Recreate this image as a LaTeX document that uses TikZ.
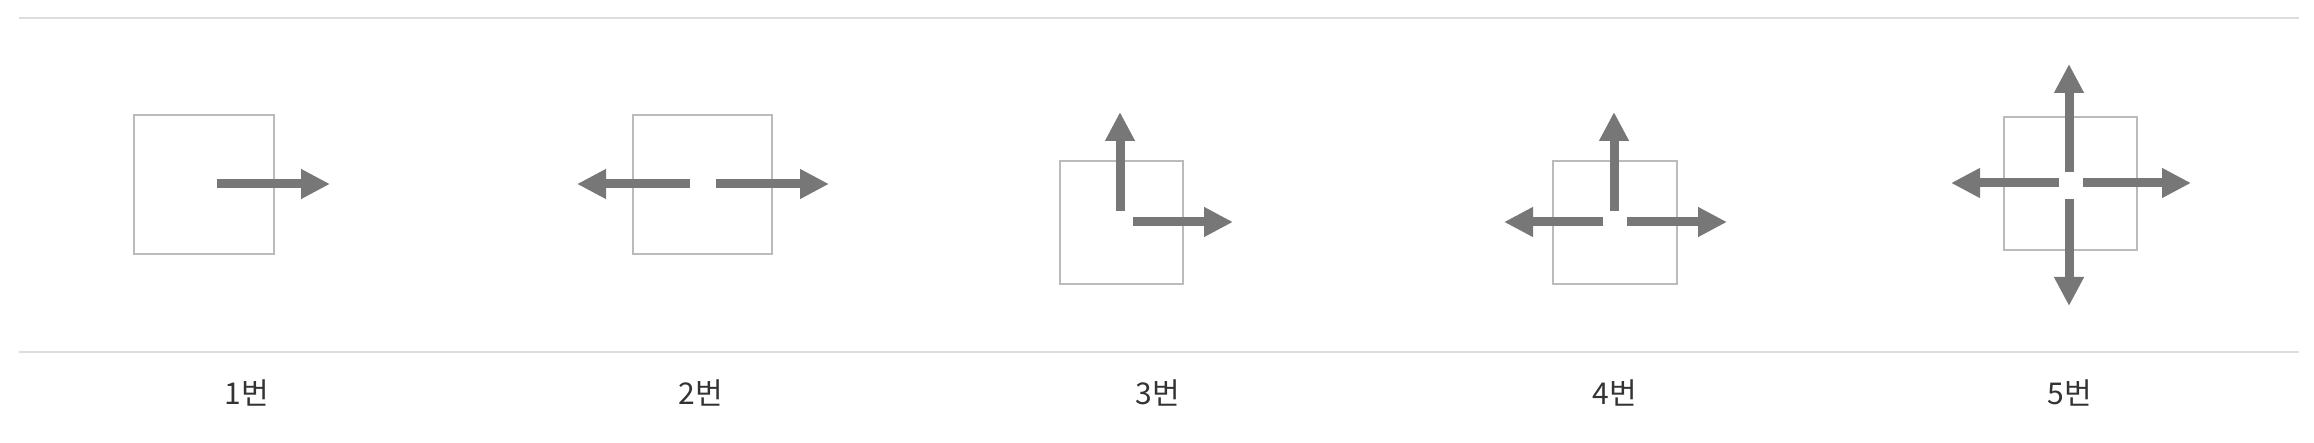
\documentclass[tikz,border=0pt]{standalone}
\usepackage{fontspec}
\setmainfont{Noto Sans CJK KR}
\usetikzlibrary{arrows.meta}
\definecolor{rulegray}{HTML}{DDDDDD}
\definecolor{boxgray}{HTML}{BBBBBB}
\definecolor{arrowgray}{HTML}{777777}
\definecolor{labelgray}{HTML}{333333}
\begin{document}
\begin{tikzpicture}[x=1pt,y=-1pt,
  rule/.style={draw=rulegray,line width=2pt},
  box/.style={draw=boxgray,line width=1.3pt},
  arr/.style={draw=arrowgray,line width=9pt,-{Triangle[length=29pt,width=28pt]}},
  lbl/.style={text=labelgray,font=\fontsize{30}{36}\selectfont,inner sep=0pt}]
\useasboundingbox (0,0) rectangle (2314,443);
\draw [rule] (19,18) -- (2299,18);
\draw [rule] (19,352) -- (2299,352);

\draw [box] (134,115) rectangle (274,254);
\draw [box] (633,115) rectangle (772,254);
\draw [box] (1060,161) rectangle (1183,284);
\draw [box] (1553,161) rectangle (1677,284);
\draw [box] (2004,117) rectangle (2137,250);

\draw [arr] (217,184) -- (330,184);

\draw [arr] (690,184) -- (577,184);
\draw [arr] (716,184) -- (829,184);

\draw [arr] (1120,211) -- (1120,112);
\draw [arr] (1133,222) -- (1233,222);

\draw [arr] (1614,211) -- (1614,112);
\draw [arr] (1603,222) -- (1504,222);
\draw [arr] (1627,222) -- (1727,222);

\draw [arr] (2069,172) -- (2069,64);
\draw [arr] (2069,199) -- (2069,306);
\draw [arr] (2059,183) -- (1951,183);
\draw [arr] (2083,183) -- (2191,183);

\node [lbl] (n1) at (247,393) {1번};
\node [lbl] (n2) at (701,393) {2번};
\node [lbl] (n3) at (1158,393) {3번};
\node [lbl] (n4) at (1615,393) {4번};
\node [lbl] (n5) at (2070,393) {5번};
\end{tikzpicture}
\end{document}
